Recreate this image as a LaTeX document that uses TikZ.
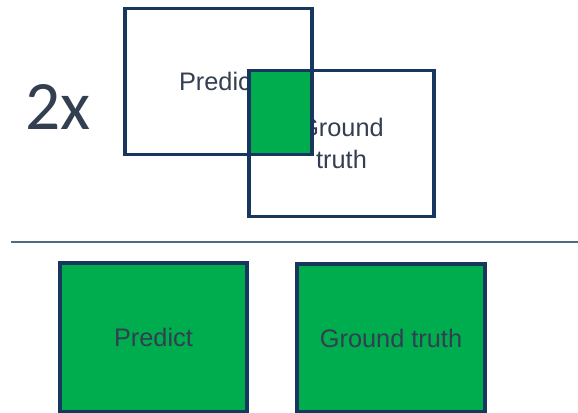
\documentclass[tikz,border=0pt]{standalone}
\usepackage{fontspec}
\setmainfont{Liberation Sans}
\newfontfamily\numfont{Carlito}
\usepackage{tikz}
\usetikzlibrary{positioning}
\definecolor{boxline}{HTML}{17375E}
\definecolor{iougreen}{HTML}{00AD4E}
\definecolor{labeltext}{HTML}{333F50}
\definecolor{ruleline}{HTML}{4F6B84}

\begin{document}
\begin{tikzpicture}[x=0.75pt, y=-0.75pt,
    box/.style={rectangle, draw=boxline, line width=2.4pt, outer sep=0pt,
      font=\fontsize{19}{23}\selectfont, text=labeltext, align=center},
    greenbox/.style={box, fill=iougreen}]
    \useasboundingbox (0,0) rectangle (578,413);

    % overlapping pair
    \node[box, minimum width=187*0.75pt, minimum height=146*0.75pt] (pred) at (218.5,81.5) {Predict};
    \node[box, minimum width=185*0.75pt, minimum height=146*0.75pt] (gt) at (341.5,143.5) {Ground\\[1pt]truth};
    \draw[line width=2.4pt, draw=boxline, fill=iougreen] (gt.north west) rectangle (pred.south east);
    \draw[line width=2.4pt, draw=boxline] (pred.north west) rectangle (pred.south east);

    \node[text=labeltext, font=\numfont\fontsize{52}{56}\selectfont] (twice) at (58,107) {2x};

    % separator
    \coordinate (ruleL) at (11,242);
    \coordinate (ruleR) at (578,242);
    \draw[ruleline, line width=1pt] (ruleL) -- (ruleR);

    % union
    \node[greenbox, minimum width=187*0.75pt, minimum height=149*0.75pt] (predU) at (153.5,337.5) {Predict};
    \node[greenbox, minimum width=188*0.75pt, minimum height=148*0.75pt] (gtU) at (391,338) {Ground truth};
\end{tikzpicture}
\end{document}
